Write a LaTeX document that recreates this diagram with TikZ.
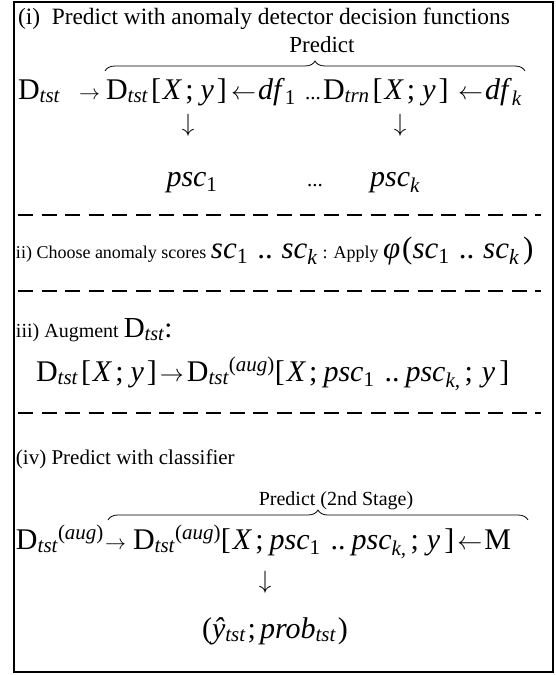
\documentclass[tikz,border=0pt]{standalone}
\usepackage{graphicx}
\usepackage{fontspec}
\setmainfont{Liberation Serif}
\usetikzlibrary{decorations.pathreplacing}
\newcommand\Sb[1]{\textsubscript{\itshape #1}}
\newcommand\Sp[1]{\textsuperscript{#1}}
\newcommand\Iv[1]{\textit{#1}}
\newcommand\K[1]{\kern#1pt\relax}
\newcommand\RA{\scalebox{2.4}{\fontsize{10}{12}\selectfont$\rightarrow$}}
\newcommand\RAs{\scalebox{2.1}{\fontsize{10}{12}\selectfont$\rightarrow$}}
\newcommand\LA{\scalebox{2.5}{\fontsize{10}{12}\selectfont$\leftarrow$}}
\newcommand\DA{\scalebox{2.5}{\fontsize{10}{12}\selectfont$\downarrow$}}
\newcommand\Dots{{\fontsize{21}{24}\selectfont...}}
\begin{document}
\begin{tikzpicture}[x=1pt,y=-1pt,
  every node/.style={inner sep=0pt, outer sep=0pt},
  txt/.style={anchor=base west, font=\fontsize{21}{24}\selectfont},
  eq/.style={anchor=base west, font=\fontsize{30}{34}\selectfont},
  eqc/.style={anchor=base, font=\fontsize{30}{34}\selectfont},
  lbl/.style={anchor=base, font=\fontsize{23}{26}\selectfont},
  sep/.style={line width=2pt, dash pattern=on 15pt off 8.5pt},
  brc/.style={decorate, decoration={brace, amplitude=10pt}, line width=0.8pt}]
\useasboundingbox (0,0) rectangle (556,675);
\draw[line width=2pt] (14,2) rectangle (553,672);

% (i)
\node[anchor=base west, font=\fontsize{23.4}{26}\selectfont] (t1) at (18,24) {(i)\ \ Predict with anomaly detector decision functions};
\node[lbl] (p1) at (322,52) {Predict};
\coordinate (b1l) at (105,71);
\coordinate (b1r) at (525,71);
\draw[brc] (b1l) -- (b1r);
\node[eq] (r1a) at (18,99) {D\Sb{tst}};
\node[eq] (r1b) at (79,99) {\RAs};
\node[eq] (r1c) at (106,99) {D\Sb{tst}\K{3}[\K{2}\Iv{X}\K{3};\K{7}\Iv{y}\K{3}]};
\node[eq] (r1d) at (231,99) {\LA\K{2}\Iv{df}\textsubscript{1}};
\node[eq] (r1e) at (305,99) {\Dots};
\node[eq] (r1f) at (323,99) {D\Sb{trn}\K{3}[\K{2}\Iv{X}\K{3};\K{7}\Iv{y}\K{3}]};
\node[eq] (r1g) at (458,99) {\LA\K{2}\Iv{df}\Sb{k}};
\node[eqc] (d1) at (188,131) {\DA};
\node[eqc] (d2) at (400,131) {\DA};
\node[eqc] (s1) at (192,186) {\Iv{psc}\textsubscript{1}};
\node[eqc] (s2) at (315,186) {\Dots};
\node[eqc] (s3) at (395,186) {\Iv{psc}\Sb{k}};
\coordinate (l1a) at (18,215);
\coordinate (l1b) at (541,215);
\draw[sep] (l1a) -- (l1b);

% ii)
\node[anchor=base west] (t2) at (16,258) {\fontsize{18}{22}\selectfont ii) Choose anomaly scores {\fontsize{31}{34}\selectfont\itshape sc\textsubscript{\upshape 1}\K{10}..\K{8}sc\Sb{k}}\K{5}: Apply {\fontsize{31}{34}\selectfont\itshape φ\K{2}\upshape(\itshape sc\textsubscript{\upshape 1}\K{10}..\K{8}sc\Sb{k}\K{4}\upshape)}};
\coordinate (l2a) at (18,291);
\coordinate (l2b) at (541,291);
\draw[sep] (l2a) -- (l2b);

% iii)
\node[anchor=base west] (t3) at (16,337) {\fontsize{20}{23}\selectfont iii) Augment {\fontsize{29}{32}\selectfont D\Sb{tst}:}};
\node[eq] (r3) at (36,381) {D\Sb{tst}\K{3}[\K{2}\Iv{X}\K{3};\K{7}\Iv{y}\K{3}]\K{3}\RA\K{3}D\Sb{tst}\Sp{(\Iv{aug})}[\K{2}\Iv{X}\K{3};\K{6}\Iv{psc}\textsubscript{1}\K{10}..\K{6}\Iv{psc}\Sb{k,}\K{4};\K{9}\Iv{y}\K{4}]};
\coordinate (l3a) at (18,413);
\coordinate (l3b) at (541,413);
\draw[sep] (l3a) -- (l3b);

% (iv)
\node[txt] (t4) at (16,464) {(iv) Predict with classifier};
\node[anchor=base, font=\fontsize{20}{24}\selectfont] (p2) at (336,505) {Predict (2nd Stage)};
\coordinate (b2l) at (108,520);
\coordinate (b2r) at (528,520);
\draw[brc] (b2l) -- (b2r);
\node[eq] (r4a) at (16,549) {D\Sb{tst}\Sp{(\Iv{aug})}};
\node[eq] (r4b) at (105,549) {\RAs};
\node[eq] (r4c) at (133,549) {D\Sb{tst}\Sp{(\Iv{aug})}[\K{2}\Iv{X}\K{3};\K{6}\Iv{psc}\textsubscript{1}\K{10}..\K{6}\Iv{psc}\Sb{k,}\K{4};\K{8}\Iv{y}\K{4}]\K{3}\LA\K{2}M};
\node[eqc] (d3) at (265,588) {\DA};
\node[eqc] (r4d) at (275,638) {(\Iv{ŷ}\Sb{tst}\K{2};\K{4}\Iv{prob}\Sb{tst}\K{2})};
\end{tikzpicture}
\end{document}
